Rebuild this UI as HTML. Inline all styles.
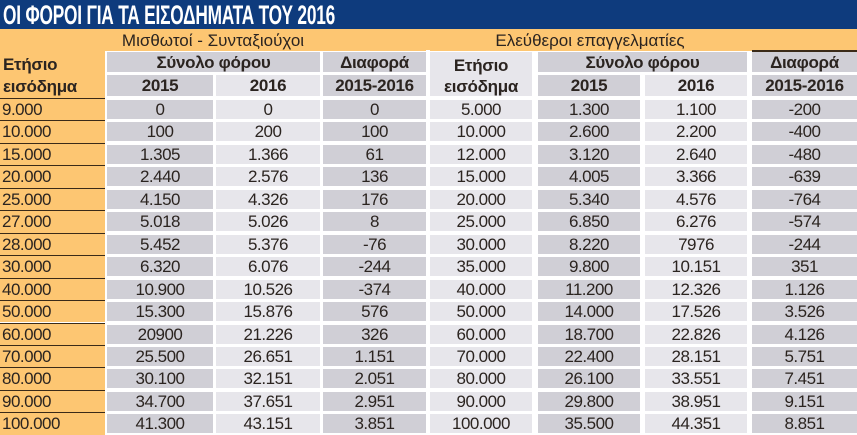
<!DOCTYPE html>
<html><head><meta charset="utf-8"><style>
*{margin:0;padding:0;box-sizing:border-box}
body{width:857px;height:435px;background:#fff;position:relative;overflow:hidden;font-family:"Liberation Sans","DejaVu Sans",sans-serif;color:#2b2420}
.t{position:absolute;left:0;top:0;width:857px;height:29px;background:#0e3b7d}
.t span{position:absolute;left:3px;top:0px;color:#fff;font-weight:bold;font-size:27px;transform:scaleX(0.64);transform-origin:left top;letter-spacing:-0.3px;white-space:nowrap}
.ob{position:absolute;top:29px;height:22px;background:#fdc672;font-size:17px;text-align:center;line-height:24px}
.lc{position:absolute;left:0;width:105px;background:#fdc672}
.r{position:absolute;left:0;width:857px;height:22.45px}
.r div{position:absolute;top:2px;height:19px;line-height:20px;text-align:center;font-size:17px;letter-spacing:-0.5px}
.r .a{left:0;top:0;height:22.45px;width:105px;background:#fdc672;border-top:1px solid #3a2a18;text-align:left;padding-left:2px;line-height:22px}
.c2{left:107px;width:106px;background:#d0cfd6}
.c3{left:216px;width:104px;background:#e7e6eb}
.c4{left:323px;width:103px;background:#d0cfd6}
.c5{left:430px;width:102px;background:#e7e6eb}
.c6{left:538px;width:102px;background:#d0cfd6}
.c7{left:645px;width:102px;background:#e7e6eb}
.c8{left:752px;width:105px;background:#d0cfd6}
.h{position:absolute;font-size:17px;text-align:center;font-weight:bold;letter-spacing:-0.3px}
</style></head><body>
<div class="t"><span>ΟΙ ΦΟΡΟΙ ΓΙΑ ΤΑ ΕΙΣΟΔΗΜΑΤΑ ΤΟΥ 2016</span></div>
<div class="ob" style="left:0;width:857px"></div>
<div class="ob" style="left:0;width:426px;background:transparent">Μισθωτοί - Συνταξιούχοι</div>
<div class="ob" style="left:430px;width:320px;background:transparent">Ελεύθεροι επαγγελματίες</div>
<div style="position:absolute;left:752px;top:50px;width:105px;height:2px;background:#3a2a18"></div>
<div style="position:absolute;left:426px;top:50px;width:4px;height:385px;background:#fff"></div>
<div class="lc" style="top:51px;height:47px"></div>
<div class="h" style="left:3px;top:54px;text-align:left;line-height:22px">Ετήσιο<br>εισόδημα</div>
<div class="h" style="left:107px;top:52px;width:213px;height:20px;line-height:21px;background:#d0cfd6">Σύνολο φόρου</div>
<div class="h" style="left:323px;top:52px;width:103px;height:20px;line-height:21px;background:#d0cfd6">Διαφορά</div>
<div class="h" style="left:107px;top:75px;width:106px;height:21px;line-height:22px;background:#d0cfd6">2015</div>
<div class="h" style="left:216px;top:75px;width:104px;height:21px;line-height:22px;background:#e7e6eb">2016</div>
<div class="h" style="left:323px;top:75px;width:103px;height:21px;line-height:22px;background:#d0cfd6">2015-2016</div>
<div class="h" style="left:430px;top:52px;width:102px;height:44px;line-height:21px;padding-top:3px;background:#e7e6eb">Ετήσιο<br>εισόδημα</div>
<div class="h" style="left:538px;top:52px;width:209px;height:20px;line-height:21px;background:#d0cfd6">Σύνολο φόρου</div>
<div class="h" style="left:752px;top:52px;width:105px;height:20px;line-height:21px;background:#d0cfd6">Διαφορά</div>
<div class="h" style="left:538px;top:75px;width:102px;height:21px;line-height:22px;background:#d0cfd6">2015</div>
<div class="h" style="left:645px;top:75px;width:102px;height:21px;line-height:22px;background:#e7e6eb">2016</div>
<div class="h" style="left:752px;top:75px;width:105px;height:21px;line-height:22px;background:#d0cfd6">2015-2016</div>

<div class="r" style="top:98px"><div class="a">9.000</div><div class="c2">0</div><div class="c3">0</div><div class="c4">0</div><div class="c5">5.000</div><div class="c6">1.300</div><div class="c7">1.100</div><div class="c8">-200</div></div>
<div class="r" style="top:120.45px"><div class="a">10.000</div><div class="c2">100</div><div class="c3">200</div><div class="c4">100</div><div class="c5">10.000</div><div class="c6">2.600</div><div class="c7">2.200</div><div class="c8">-400</div></div>
<div class="r" style="top:142.9px"><div class="a">15.000</div><div class="c2">1.305</div><div class="c3">1.366</div><div class="c4">61</div><div class="c5">12.000</div><div class="c6">3.120</div><div class="c7">2.640</div><div class="c8">-480</div></div>
<div class="r" style="top:165.35px"><div class="a">20.000</div><div class="c2">2.440</div><div class="c3">2.576</div><div class="c4">136</div><div class="c5">15.000</div><div class="c6">4.005</div><div class="c7">3.366</div><div class="c8">-639</div></div>
<div class="r" style="top:187.8px"><div class="a">25.000</div><div class="c2">4.150</div><div class="c3">4.326</div><div class="c4">176</div><div class="c5">20.000</div><div class="c6">5.340</div><div class="c7">4.576</div><div class="c8">-764</div></div>
<div class="r" style="top:210.25px"><div class="a">27.000</div><div class="c2">5.018</div><div class="c3">5.026</div><div class="c4">8</div><div class="c5">25.000</div><div class="c6">6.850</div><div class="c7">6.276</div><div class="c8">-574</div></div>
<div class="r" style="top:232.7px"><div class="a">28.000</div><div class="c2">5.452</div><div class="c3">5.376</div><div class="c4">-76</div><div class="c5">30.000</div><div class="c6">8.220</div><div class="c7">7976</div><div class="c8">-244</div></div>
<div class="r" style="top:255.15px"><div class="a">30.000</div><div class="c2">6.320</div><div class="c3">6.076</div><div class="c4">-244</div><div class="c5">35.000</div><div class="c6">9.800</div><div class="c7">10.151</div><div class="c8">351</div></div>
<div class="r" style="top:277.6px"><div class="a">40.000</div><div class="c2">10.900</div><div class="c3">10.526</div><div class="c4">-374</div><div class="c5">40.000</div><div class="c6">11.200</div><div class="c7">12.326</div><div class="c8">1.126</div></div>
<div class="r" style="top:300.05px"><div class="a">50.000</div><div class="c2">15.300</div><div class="c3">15.876</div><div class="c4">576</div><div class="c5">50.000</div><div class="c6">14.000</div><div class="c7">17.526</div><div class="c8">3.526</div></div>
<div class="r" style="top:322.5px"><div class="a">60.000</div><div class="c2">20900</div><div class="c3">21.226</div><div class="c4">326</div><div class="c5">60.000</div><div class="c6">18.700</div><div class="c7">22.826</div><div class="c8">4.126</div></div>
<div class="r" style="top:344.95px"><div class="a">70.000</div><div class="c2">25.500</div><div class="c3">26.651</div><div class="c4">1.151</div><div class="c5">70.000</div><div class="c6">22.400</div><div class="c7">28.151</div><div class="c8">5.751</div></div>
<div class="r" style="top:367.4px"><div class="a">80.000</div><div class="c2">30.100</div><div class="c3">32.151</div><div class="c4">2.051</div><div class="c5">80.000</div><div class="c6">26.100</div><div class="c7">33.551</div><div class="c8">7.451</div></div>
<div class="r" style="top:389.85px"><div class="a">90.000</div><div class="c2">34.700</div><div class="c3">37.651</div><div class="c4">2.951</div><div class="c5">90.000</div><div class="c6">29.800</div><div class="c7">38.951</div><div class="c8">9.151</div></div>
<div class="r" style="top:412.3px"><div class="a">100.000</div><div class="c2">41.300</div><div class="c3">43.151</div><div class="c4">3.851</div><div class="c5">100.000</div><div class="c6">35.500</div><div class="c7">44.351</div><div class="c8">8.851</div></div>
</body></html>
